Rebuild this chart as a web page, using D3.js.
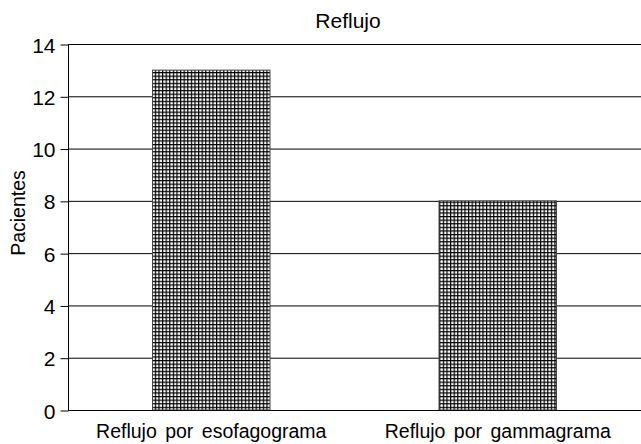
<!DOCTYPE html>
<html>
<head>
<meta charset="utf-8">
<script src="https://cdn.jsdelivr.net/npm/d3@7"></script>
<style>
  body { margin: 0; background: #fff; }
  text { font-family: "Liberation Sans", Arial, sans-serif; fill: #000; }
</style>
</head>
<body>
<div id="chart"></div>
<script>
// data
var categories = ["Reflujo por esofagograma", "Reflujo por gammagrama"];
var pacientes = [13, 8];
var yTicks = [0, 2, 4, 6, 8, 10, 12, 14];

var width = 641, height = 444;
var plotLeft = 68, plotRight = 641, plotTop = 44, plotBottom = 410;

var svg = d3.select("#chart")
	.append("svg")
	.attr("width", width)
	.attr("height", height)

// crosshatch pattern for the bars
var cell = 3.6, lw = 1.2;
var pat = svg.append("defs").append("pattern")
	.attr("id", "hatch")
	.attr("patternUnits", "userSpaceOnUse")
	.attr("width", cell)
	.attr("height", cell)
pat.append("rect").attr("width", cell).attr("height", cell).attr("fill", "#fff")
pat.append("rect").attr("x", 0).attr("y", 0).attr("width", lw).attr("height", cell).attr("fill", "#000")
pat.append("rect").attr("x", 0).attr("y", 0).attr("width", cell).attr("height", lw).attr("fill", "#000")

var x = d3.scaleBand()
	.domain(categories)
	.range([plotLeft, plotRight])
	.paddingInner(0.59)
	.paddingOuter(0.295)

var y = d3.scaleLinear()
	.domain([0, 14])
	.range([plotBottom, plotTop])

// gridlines
svg.append("g")
	.selectAll("line")
	.data(yTicks.filter(d => d > 0))
	.enter()
	.append("line")
	.attr("x1", plotLeft)
	.attr("x2", plotRight)
	.attr("y1", d => y(d) + 0.5)
	.attr("y2", d => y(d) + 0.5)
	.attr("stroke", "#000")
	.attr("stroke-width", 1)

// bars
svg.append("g")
	.selectAll("rect")
	.data(pacientes)
	.enter()
	.append("rect")
	.attr("x", (d, i) => x(categories[i]))
	.attr("y", d => y(d))
	.attr("width", x.bandwidth())
	.attr("height", d => plotBottom - y(d))
	.attr("fill", "url(#hatch)")
	.attr("stroke", "#444")
	.attr("stroke-width", 1)

// y axis
var yAxis = svg.append("g")
	.attr("transform", "translate(" + (plotLeft + 0.5) + ",0.5)")
	.call(d3.axisLeft(y).tickValues(yTicks).tickSize(8).tickPadding(5))
yAxis.select(".domain").attr("d", "M0," + (plotTop - 0.5) + "V" + (plotBottom - 0.5))
yAxis.selectAll("text").style("font-size", "21px").attr("dy", "0.36em")

// x axis
var xAxis = svg.append("g")
	.attr("transform", "translate(0," + (plotBottom + 0.5) + ")")
	.call(d3.axisBottom(x).tickSize(0).tickPadding(12))
xAxis.select(".domain").attr("d", "M" + plotLeft + ",0H" + plotRight)
xAxis.selectAll("text")
	.style("font-size", "19.5px")
	.style("word-spacing", "3px")
	.attr("dy", null)
	.attr("y", 27)

// title
svg.append("text")
	.attr("x", 348)
	.attr("y", 28)
	.attr("text-anchor", "middle")
	.style("font-size", "21px")
	.text("Reflujo")

// y label
svg.append("text")
	.attr("transform", "translate(25,213) rotate(-90)")
	.attr("text-anchor", "middle")
	.style("font-size", "19.5px")
	.text("Pacientes")
</script>
</body>
</html>
